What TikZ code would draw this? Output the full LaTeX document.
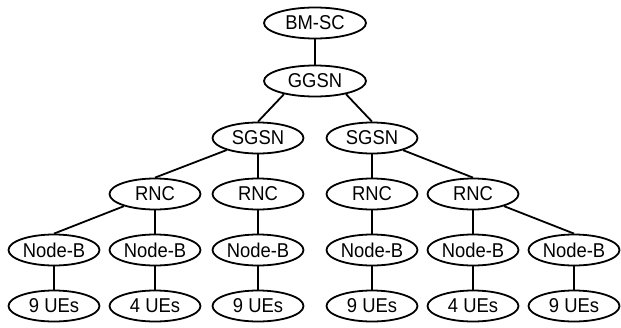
\documentclass[tikz,border=0pt]{standalone}
\usepackage{fontspec}
\setmainfont{Liberation Sans}[FakeStretch=0.92]
\usepackage{tikz}
\usetikzlibrary{shapes}
\usetikzlibrary{positioning}

\begin{document}
\begin{tikzpicture}[x=1pt, y=-1pt,
    ent/.style={draw, ellipse, line width=1.8pt, inner sep=0pt,
        minimum width=91pt, minimum height=31pt,
        font=\fontsize{20}{22}\selectfont},
    core/.style={ent, minimum width=102pt},
    link/.style={line width=1.8pt}]
    \useasboundingbox (0, 0) rectangle (621, 327);

    % rows
    \def\ya{23}
    \def\yb{81}
    \def\yc{138}
    \def\yd{194}
    \def\ye{250}
    \def\yf{306}

    \node[core] (BM) at (315, \ya) {BM-SC};
    \node[core] (GG) at (315, \yb) {GGSN};

    \node[ent] (S1) at (258, \yc) {SGSN};
    \node[ent] (S2) at (372, \yc) {SGSN};

    \node[ent] (R1) at (155, \yd) {RNC};
    \node[ent] (R2) at (258, \yd) {RNC};
    \node[ent] (R3) at (372, \yd) {RNC};
    \node[ent] (R4) at (473, \yd) {RNC};

    \node[ent] (N1) at (54, \ye) {Node-B};
    \node[ent] (N2) at (155, \ye) {Node-B};
    \node[ent] (N3) at (258, \ye) {Node-B};
    \node[ent] (N4) at (372, \ye) {Node-B};
    \node[ent] (N5) at (473, \ye) {Node-B};
    \node[ent] (N6) at (574, \ye) {Node-B};

    \node[ent] (U1) at (54, \yf) {9 UEs};
    \node[ent] (U2) at (155, \yf) {4 UEs};
    \node[ent] (U3) at (258, \yf) {9 UEs};
    \node[ent] (U4) at (372, \yf) {9 UEs};
    \node[ent] (U5) at (473, \yf) {4 UEs};
    \node[ent] (U6) at (574, \yf) {9 UEs};

    \draw[link] (BM) -- (GG);
    \draw[link] (GG.203) -- (S1.north);
    \draw[link] (GG.337) -- (S2.north);
    \draw[link] (S1) -- (R1.north);
    \draw[link] (S1) -- (R2);
    \draw[link] (S2) -- (R3);
    \draw[link] (S2) -- (R4.north);
    \draw[link] (R1) -- (N1.north);
    \draw[link] (R1) -- (N2);
    \draw[link] (R2) -- (N3);
    \draw[link] (R3) -- (N4);
    \draw[link] (R4) -- (N5);
    \draw[link] (R4) -- (N6.north);
    \draw[link] (N1) -- (U1);
    \draw[link] (N2) -- (U2);
    \draw[link] (N3) -- (U3);
    \draw[link] (N4) -- (U4);
    \draw[link] (N5) -- (U5);
    \draw[link] (N6) -- (U6);
\end{tikzpicture}
\end{document}
